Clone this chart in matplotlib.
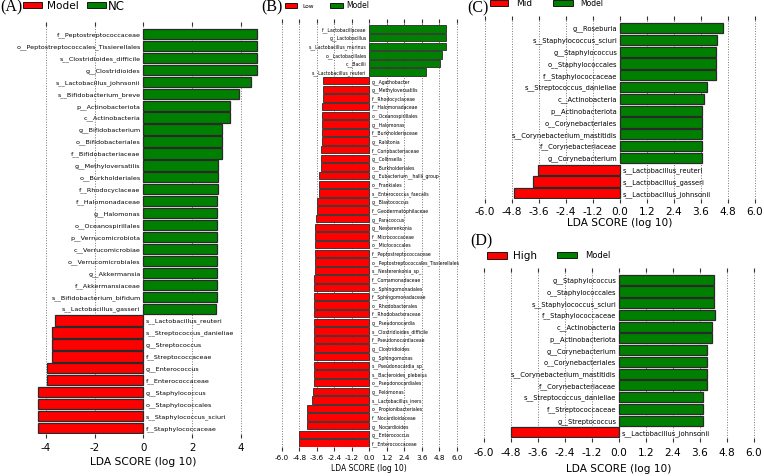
import numpy as np
import matplotlib
matplotlib.use('Agg')
import matplotlib.pyplot as plt
from matplotlib.patches import Rectangle

RED = '#ff0000'
GREEN = '#008000'

# (A) Model vs NC, top to bottom
a_names = ['f__Peptostreptococcaceae', 'o__Peptostreptococcales_Tissierellales',
           's__Clostridioides_difficile', 'g__Clostridioides', 's__Lactobacillus_johnsonii',
           's__Bifidobacterium_breve', 'p__Actinobacteriota', 'c__Actinobacteria',
           'g__Bifidobacterium', 'o__Bifidobacteriales', 'f__Bifidobacteriaceae',
           'g__Methyloversatilis', 'o__Burkholderiales', 'f__Rhodocyclaceae',
           'f__Halomonadaceae', 'g__Halomonas', 'o__Oceanospirillales',
           'p__Verrucomicrobiota', 'c__Verrucomicrobiae', 'o__Verrucomicrobiales',
           'g__Akkermansia', 'f__Akkermansiaceae', 's__Bifidobacterium_bifidum',
           's__Lactobacillus_gasseri', 's__Lactobacillus_reuteri', 's__Streptococcus_danieliae',
           'g__Streptococcus', 'f__Streptococcaceae', 'g__Enterococcus', 'f__Enterococcaceae',
           'g__Staphylococcus', 'o__Staphylococcales', 's__Staphylococcus_sciuri',
           'f__Staphylococcaceae']
a_lda = [4.67, 4.67, 4.67, 4.67, 4.41, 3.91, 3.55, 3.55, 3.23, 3.23, 3.23,
         3.07, 3.07, 3.07, 3.03, 3.03, 3.03, 3.03, 3.03, 3.03, 3.03, 3.03, 3.01, 2.98,
         -3.62, -3.73, -3.73, -3.73, -3.93, -3.93, -4.30, -4.30, -4.30, -4.30]

# (B) Low vs Model
b_names = ['f__Lactobacillaceae', 'g__Lactobacillus', 's__Lactobacillus_murinus',
           'o__Lactobacillales', 'c__Bacilli', 's__Lactobacillus_reuteri',
           'g__Agathobacter', 'g__Methyloversatilis', 'f__Rhodocyclaceae', 'f__Halomonadaceae',
           'o__Oceanospirillales', 'g__Halomonas', 'f__Burkholderiaceae', 'g__Ralstonia',
           'f__Coriobacteriaceae', 'g__Collinsella', 'o__Burkholderiales',
           'g__Eubacterium__hallii_group', 'o__Frankiales', 's__Enterococcus_faecalis',
           'g__Blastococcus', 'f__Geodermatophilaceae', 'g__Paracoccus', 'g__Nesterenkonia',
           'f__Micrococcaceae', 'o__Micrococcales', 'f__Peptostreptococcaceae',
           'o__Peptostreptococcales_Tissierellales', 's__Nesterenkonia_sp_',
           'f__Comamonadaceae', 'o__Sphingomonadales', 'f__Sphingomonadaceae',
           'o__Rhodobacterales', 'f__Rhodobacteraceae', 'g__Pseudonocardia',
           's__Clostridioides_difficile', 'f__Pseudonocardiaceae', 'g__Clostridioides',
           'g__Sphingomonas', 's__Pseudonocardia_sp_', 's__Bacteroides_plebeius',
           'o__Pseudonocardiales', 'g__Pelomonas', 's__Lactobacillus_iners',
           'o__Propionibacteriales', 'f__Nocardioidaceae', 'g__Nocardioides',
           'g__Enterococcus', 'f__Enterococcaceae']
b_lda = [5.25, 5.25, 5.23, 5.00, 4.84, 3.86,
         -3.19, -3.19, -3.19, -3.26, -3.26, -3.26, -3.26, -3.26, -3.33, -3.33, -3.33,
         -3.42, -3.42, -3.46, -3.56, -3.56, -3.65, -3.70, -3.70, -3.70, -3.70, -3.70, -3.70,
         -3.77, -3.77, -3.77, -3.77, -3.77, -3.77, -3.77, -3.77, -3.77, -3.77, -3.77, -3.80,
         -3.80, -3.84, -3.90, -4.25, -4.25, -4.25, -4.82, -4.82]

# (C) Mid vs Model
c_names = ['g__Roseburia', 's__Staphylococcus_sciuri', 'g__Staphylococcus',
           'o__Staphylococcales', 'f__Staphylococcaceae', 's__Streptococcus_danieliae',
           'c__Actinobacteria', 'p__Actinobacteriota', 'o__Corynebacteriales',
           's__Corynebacterium_mastitidis', 'f__Corynebacteriaceae', 'g__Corynebacterium',
           's__Lactobacillus_reuteri', 's__Lactobacillus_gasseri', 's__Lactobacillus_johnsonii']
c_lda = [4.59, 4.30, 4.27, 4.27, 4.27, 3.85, 3.73, 3.67, 3.64, 3.64, 3.64, 3.64,
         -3.66, -3.85, -4.70]

# (D) High vs Model
d_names = ['g__Staphylococcus', 'o__Staphylococcales', 's__Staphylococcus_sciuri',
           'f__Staphylococcaceae', 'c__Actinobacteria', 'p__Actinobacteriota',
           'g__Corynebacterium', 'o__Corynebacteriales', 's__Corynebacterium_mastitidis',
           'f__Corynebacteriaceae', 's__Streptococcus_danieliae', 'f__Streptococcaceae',
           'g__Streptococcus', 's__Lactobacillus_johnsonii']
d_lda = [4.25, 4.25, 4.25, 4.26, 4.13, 4.13, 3.92, 3.92, 3.92, 3.92, 3.75, 3.75, 3.75,
         -4.82]

ticks_a = [-4, -2, 0, 2, 4]
ticks_wide = [-6.0, -4.8, -3.6, -2.4, -1.2, 0.0, 1.2, 2.4, 3.6, 4.8, 6.0]

W, H = 764, 477
fig = plt.figure(figsize=(W / 100, H / 100), dpi=100)


def px_axes(x0, x1, y0, y1):
    # pixel box -> figure axes
    return fig.add_axes([x0 / W, 1 - y1 / H, (x1 - x0) / W, (y1 - y0) / H])


def lefse(ax, names, vals, ticks, xlim, lab_fs, tick_fs, xl_fs, lw, fmt, lpad):
    n = len(names)
    pos = np.arange(n)[::-1]
    cols = [GREEN if v > 0 else RED for v in vals]
    ax.barh(pos, vals, height=0.86, color=cols, edgecolor='#2a2a2a', linewidth=lw, zorder=2)
    for p, v, nm in zip(pos, vals, names):
        if v > 0:
            ax.annotate(nm, (0, p), xytext=(-2, 0), textcoords='offset points',
                        ha='right', va='center', fontsize=lab_fs)
        else:
            ax.annotate(nm, (0, p), xytext=(2, 0), textcoords='offset points',
                        ha='left', va='center', fontsize=lab_fs)
    ax.set_xlim(xlim)
    ax.set_ylim(-0.5, n - 1 + 0.65)
    ax.set_yticks([])
    ax.set_xticks(ticks)
    ax.set_xticklabels([fmt(t) for t in ticks])
    for s in ax.spines.values():
        s.set_visible(False)
    ax.tick_params(axis='x', top=True, direction='out', length=3, width=0.8,
                   color='#333333', labelsize=tick_fs, pad=2)
    ax.grid(axis='x', linestyle=':', color='#777777', linewidth=0.7)
    ax.set_axisbelow(True)
    ax.set_xlabel('LDA SCORE (log 10)', fontsize=xl_fs, labelpad=lpad)


def legend_row(items):
    for kind, a, b, c, d, col in items:
        if kind == 'box':
            fig.add_artist(Rectangle((a / W, 1 - d / H), (c - a) / W, (d - b) / H,
                                     transform=fig.transFigure, facecolor=col,
                                     edgecolor='black', linewidth=0.6))
        else:
            fig.text(a / W, 1 - b / H, c, fontsize=d, ha='left', va='center')


def fmt_int(t):
    return '%d' % t


def fmt_1(t):
    return '%.1f' % t


axA = px_axes(26.2, 260.4, 27.3, 435)
lefse(axA, a_names, a_lda, ticks_a, (-4.8, 4.8), 4.6, 7.4, 7.7, 0.9, fmt_int, 3)
axA.tick_params(axis='x', pad=3)

axB = px_axes(278.8, 459.8, 24.4, 448.3)
lefse(axB, b_names, b_lda, ticks_wide, (-6.2, 6.2), 3.3, 5.2, 5.5, 0.6, fmt_1, 2)

axC = px_axes(480.7, 759.3, 21.4, 200.2)
lefse(axC, c_names, c_lda, ticks_wide, (-6.2, 6.2), 4.9, 7.6, 7.6, 0.9, fmt_1, 0.5)

axD = px_axes(479.7, 758.3, 273.1, 439.2)
lefse(axD, d_names, d_lda, ticks_wide, (-6.2, 6.2), 4.9, 7.6, 7.6, 0.9, fmt_1, 5)
axD.tick_params(axis='x', pad=3)

serif = ['Liberation Serif', 'DejaVu Serif']
for lab, x, y in [('(A)', 0, 7.5), ('(B)', 261.7, 7.5), ('(C)', 467, 8.3), ('(D)', 470, 241.7)]:
    fig.text(x / W, 1 - y / H, lab, fontsize=11.5, family=serif, ha='left', va='center')

legend_row([('box', 23, 3.3, 42, 9, RED), ('txt', 46.7, 6, 'Model', 7.6, None),
            ('box', 87.3, 3.3, 106, 9, GREEN), ('txt', 107.5, 6, 'NC', 8.5, None)])
legend_row([('box', 285, 4, 297, 8.5, RED), ('txt', 302, 6, 'Low', 4.2, None),
            ('box', 330, 4, 343, 9, GREEN), ('txt', 346, 6, 'Model', 5.5, None)])
legend_row([('box', 490, 1, 508, 6.7, RED), ('txt', 516, 4, 'Mid', 6.5, None),
            ('box', 553, 0.7, 573, 6.5, GREEN), ('txt', 580, 4, 'Model', 5.5, None)])
legend_row([('box', 487, 253, 507, 260, RED), ('txt', 513, 256, 'High', 7.5, None),
            ('box', 557, 253, 577, 259, GREEN), ('txt', 585, 256, 'Model', 6, None)])

fig.savefig('out.png', dpi=100)
